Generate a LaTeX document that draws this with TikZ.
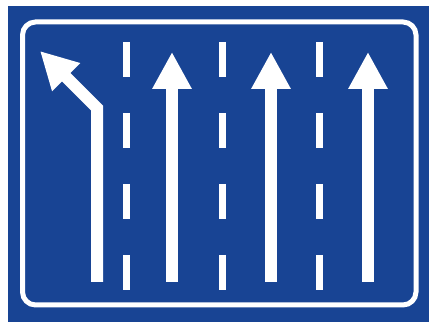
\documentclass[tikz,border=0pt]{standalone}
\usepackage{xcolor}
\usepackage{tikz}
\usetikzlibrary{arrows.meta,calc}
\definecolor{signblue}{RGB}{24,68,148}
\tikzset{
  rim/.style = {draw=white, line width=5pt, rounded corners=13pt},
  lanedash/.style = {draw=white, line width=7pt},
  lanearrow/.style = {draw=white, line width=12pt, line join=miter,
    -{Triangle[length=37pt,width=37pt,fill=white]}}
}

\begin{document}
\begin{tikzpicture}[x=1pt,y=-1pt]

  \fill[white] (0,0) rectangle (429,328);
  \useasboundingbox (0,0) rectangle (429,328);
  \fill[signblue] (8,6) rectangle (429,322);
  \draw[rim] (22.5,22) rectangle (416,305);

  % lane dividers
  \foreach \x in {126,222,319}
    \foreach \y in {42,113,184,255}{
       \draw[lanedash] (\x,\y) -- (\x,\y+35);
     }

  % straight on
  \foreach \x in {172,271,368}{
       \draw[lanearrow] (\x,282) -- (\x,52);
     }

  % turn left
  \draw[lanearrow] (97,282) -- (97,108) -- (40,51);

\end{tikzpicture}
\end{document}
